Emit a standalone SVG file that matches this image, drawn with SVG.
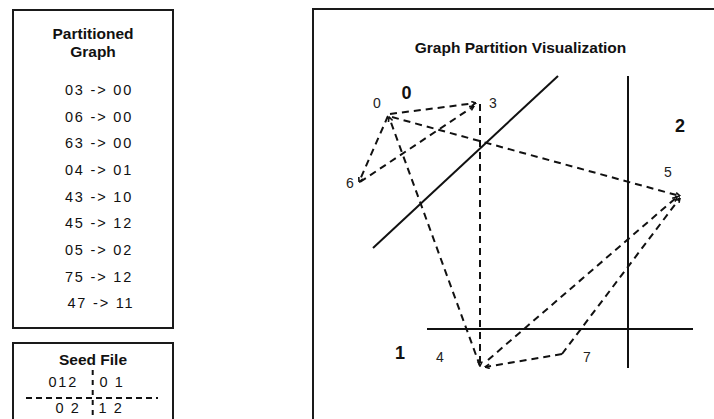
<svg xmlns="http://www.w3.org/2000/svg" width="714" height="419" viewBox="0 0 714 419">
<style>
.box{fill:#fff;stroke:#1a1a1a;stroke-width:2}
.ttl{font-family:"Liberation Sans",Arial,sans-serif;font-weight:bold;font-size:15.5px;fill:#111;text-anchor:middle}
.row{font-family:"Liberation Sans",Arial,sans-serif;font-size:14.5px;fill:#111;letter-spacing:1.8px}
.dash{fill:none;stroke:#111;stroke-width:2;stroke-dasharray:7 5}
.sdash{fill:none;stroke:#111;stroke-width:2;stroke-dasharray:6 4}
.solid{fill:none;stroke:#111;stroke-width:2}
.nl{font-family:"Liberation Sans",Arial,sans-serif;font-size:14px;fill:#222;text-anchor:middle}
.pl{font-family:"Liberation Sans",Arial,sans-serif;font-weight:bold;font-size:18px;fill:#111;text-anchor:middle}
</style>
<defs>
<marker id="ah" viewBox="0 0 6 6" refX="5.5" refY="3" markerWidth="6" markerHeight="6" markerUnits="userSpaceOnUse" orient="auto">
<path d="M1,0.8 L5.5,3 L1,5.2" fill="none" stroke="#111" stroke-width="1.6"/>
</marker>
</defs>
<rect width="714" height="419" fill="#fff"/>
<g id="partitioned-graph">
<rect class="box" x="13" y="10" width="160" height="318"/>
<text class="ttl" x="93" y="39">Partitioned</text>
<text class="ttl" x="93" y="57">Graph</text>
<text class="row" x="65" y="95">03 -&gt; 00</text>
<text class="row" x="65" y="122">06 -&gt; 00</text>
<text class="row" x="65" y="148">63 -&gt; 00</text>
<text class="row" x="65" y="175">04 -&gt; 01</text>
<text class="row" x="65" y="202">43 -&gt; 10</text>
<text class="row" x="65" y="228">45 -&gt; 12</text>
<text class="row" x="65" y="255">05 -&gt; 02</text>
<text class="row" x="65" y="282">75 -&gt; 12</text>
<text class="row" x="67.5" y="308">47 -&gt; 11</text>
</g>
<g id="seed-file">
<rect class="box" x="13" y="343" width="160" height="100"/>
<text class="ttl" x="93" y="365">Seed File</text>
<path class="sdash" d="M26,398 L158,398"/>
<path fill="none" stroke="#111" stroke-width="2" stroke-dasharray="5 5" d="M92.7,370 L92.7,419"/>
<text class="row" x="48.5" y="387">012</text>
<text class="row" x="99.5" y="387" style="letter-spacing:1.6px">0 1</text>
<text class="row" x="55.5" y="413" style="letter-spacing:1.6px">0 2</text>
<text class="row" x="98.5" y="413" style="letter-spacing:1.6px">1 2</text>
</g>
<g id="visualization">
<rect class="box" x="313" y="9" width="420" height="430"/>
<text class="ttl" x="520.5" y="53">Graph Partition Visualization</text>
</g>
<g id="partition-lines">
<path class="solid" d="M373,248 L558,76"/>
<path class="solid" d="M628,76 L628,368"/>
<path class="solid" d="M427,329 L693,329"/>
</g>
<g id="partition-labels">
<text class="pl" x="406.5" y="99">0</text>
<text class="pl" x="680" y="132">2</text>
<text class="pl" x="400" y="359">1</text>
</g>
<g id="connectors">
<path class="dash" d="M390,114 L476,103" marker-end="url(#ah)"/>
<path class="dash" d="M388,116 L359,182" marker-end="url(#ah)"/>
<path class="dash" d="M360,182 L474,106" marker-end="url(#ah)"/>
<path class="dash" d="M480,366 L389,117" marker-end="url(#ah)"/>
<path class="dash" d="M480,104 L480,366" marker-end="url(#ah)"/>
<path class="dash" d="M488,360 L677,197" marker-end="url(#ah)"/>
<path class="dash" d="M392,117 L680,196" marker-end="url(#ah)"/>
<path class="dash" d="M562,354 L680,198" marker-end="url(#ah)"/>
<path class="dash" d="M562,354 L485,367" marker-end="url(#ah)"/>
</g>
<g id="node-0"><text class="nl" x="377" y="108">0</text></g>
<g id="node-3"><text class="nl" x="493" y="108">3</text></g>
<g id="node-6"><text class="nl" x="350" y="188">6</text></g>
<g id="node-5"><text class="nl" x="668" y="177">5</text></g>
<g id="node-4"><text class="nl" x="440" y="362">4</text></g>
<g id="node-7"><text class="nl" x="587" y="362">7</text></g>
</svg>
